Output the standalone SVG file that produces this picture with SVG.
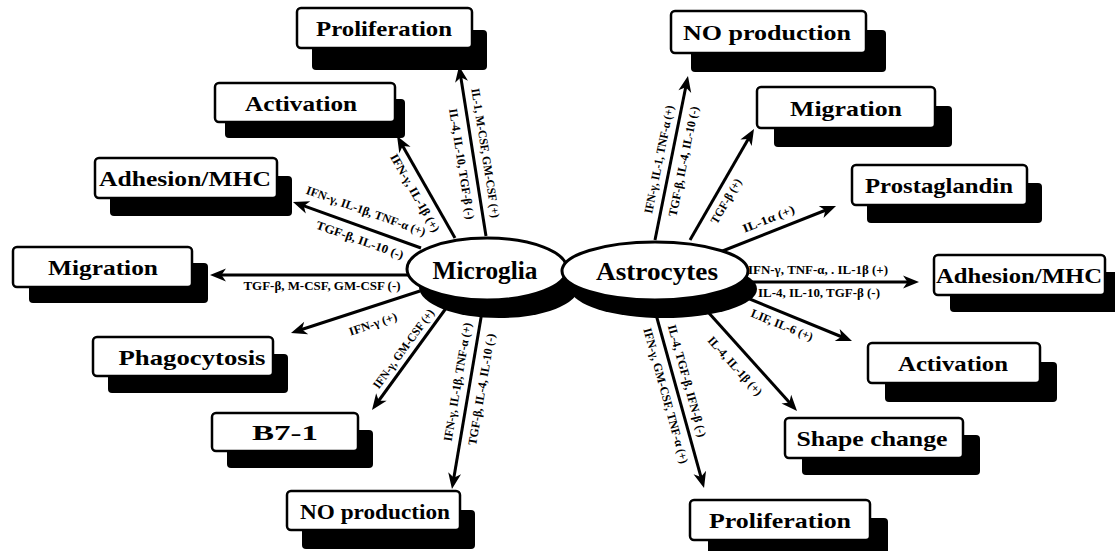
<svg xmlns="http://www.w3.org/2000/svg" width="1115" height="551" viewBox="0 0 1115 551">
<defs>
<style>
.sh{fill:#000}
.bx{fill:#fff;stroke:#000;stroke-width:2.5}
.bl{font-family:"Liberation Serif",serif;font-weight:bold;font-size:22px;text-anchor:middle;dominant-baseline:central;fill:#000}
.el{font-family:"Liberation Serif",serif;font-weight:bold;font-size:25px;text-anchor:middle;dominant-baseline:central;fill:#000}
.lb{font-family:"Liberation Serif",serif;font-weight:bold;font-size:12px;text-anchor:middle;dominant-baseline:central;fill:#000}
.cn{stroke:#000;stroke-width:3;fill:none;marker-end:url(#ah)}
.ov{fill:#fff;stroke:#000;stroke-width:3}
</style>
<marker id="ah" markerUnits="userSpaceOnUse" markerWidth="20" markerHeight="16" viewBox="-2 -8 20 16" refX="8" refY="0" orient="auto">
<path d="M16,0 L0,-6.5 L4.5,0 L0,6.5 Z" fill="#000"/>
</marker>
</defs>
<rect width="1115" height="551" fill="#fff"/>

<g id="mg-prolif"><rect class="sh" x="312" y="30" width="175" height="40" rx="4"/><rect class="bx" x="297" y="8" width="175" height="40" rx="4"/><text class="bl" x="384" y="28" textLength="136" lengthAdjust="spacingAndGlyphs">Proliferation</text></g>
<g id="mg-activation"><rect class="sh" x="225" y="99" width="180" height="39" rx="4"/><rect class="bx" x="215" y="83" width="180" height="39" rx="4"/><text class="bl" x="301" y="103" textLength="112" lengthAdjust="spacingAndGlyphs">Activation</text></g>
<g id="mg-adhesion"><rect class="sh" x="110" y="176" width="182" height="40" rx="4"/><rect class="bx" x="95" y="158" width="182" height="40" rx="4"/><text class="bl" x="185" y="178" textLength="172" lengthAdjust="spacingAndGlyphs">Adhesion/MHC</text></g>
<g id="mg-migration"><rect class="sh" x="29" y="263" width="179" height="40" rx="4"/><rect class="bx" x="13" y="247" width="179" height="40" rx="4"/><text class="bl" x="103" y="267" textLength="110" lengthAdjust="spacingAndGlyphs">Migration</text></g>
<g id="mg-phago"><rect class="sh" x="108" y="354" width="180" height="39" rx="4"/><rect class="bx" x="93" y="337" width="180" height="39" rx="4"/><text class="bl" x="192" y="357" textLength="147" lengthAdjust="spacingAndGlyphs">Phagocytosis</text></g>
<g id="mg-b71"><rect class="sh" x="227" y="430" width="146" height="38" rx="4"/><rect class="bx" x="212" y="413" width="146" height="38" rx="4"/><text class="bl" x="285" y="432" textLength="66" lengthAdjust="spacingAndGlyphs">B7-1</text></g>
<g id="mg-no"><rect class="sh" x="302" y="510" width="173" height="39" rx="4"/><rect class="bx" x="287" y="491" width="173" height="39" rx="4"/><text class="bl" x="375" y="511" textLength="150" lengthAdjust="spacingAndGlyphs">NO production</text></g>

<g id="as-no"><rect class="sh" x="691" y="30" width="195" height="42" rx="4"/><rect class="bx" x="671" y="11" width="195" height="42" rx="4"/><text class="bl" x="767" y="32" textLength="168" lengthAdjust="spacingAndGlyphs">NO production</text></g>
<g id="as-migration"><rect class="sh" x="774" y="106" width="178" height="41" rx="4"/><rect class="bx" x="757" y="87" width="178" height="41" rx="4"/><text class="bl" x="846" y="108" textLength="112" lengthAdjust="spacingAndGlyphs">Migration</text></g>
<g id="as-prosta"><rect class="sh" x="867" y="183" width="175" height="40" rx="4"/><rect class="bx" x="852" y="165" width="175" height="40" rx="4"/><text class="bl" x="939" y="185" textLength="148" lengthAdjust="spacingAndGlyphs">Prostaglandin</text></g>
<g id="as-adhesion"><rect class="sh" x="950" y="272" width="171" height="40" rx="4"/><rect class="bx" x="934" y="255" width="171" height="40" rx="4"/><text class="bl" x="1019" y="275" textLength="166" lengthAdjust="spacingAndGlyphs">Adhesion/MHC</text></g>
<g id="as-activation"><rect class="sh" x="885" y="362" width="172" height="40" rx="4"/><rect class="bx" x="868" y="343" width="172" height="40" rx="4"/><text class="bl" x="953" y="363" textLength="110" lengthAdjust="spacingAndGlyphs">Activation</text></g>
<g id="as-shape"><rect class="sh" x="802" y="435" width="178" height="40" rx="4"/><rect class="bx" x="785" y="418" width="178" height="40" rx="4"/><text class="bl" x="872" y="438" textLength="151" lengthAdjust="spacingAndGlyphs">Shape change</text></g>
<g id="as-prolif"><rect class="sh" x="708" y="518" width="180" height="40" rx="4"/><rect class="bx" x="690" y="500" width="180" height="40" rx="4"/><text class="bl" x="780" y="520" textLength="142" lengthAdjust="spacingAndGlyphs">Proliferation</text></g>

<g id="connectors">
<line class="cn" x1="486" y1="236" x2="460.3" y2="73.9"/>
<line class="cn" x1="455" y1="238" x2="401" y2="143"/>
<line class="cn" x1="421" y1="248" x2="300.5" y2="204.7"/>
<line class="cn" x1="408" y1="275" x2="218" y2="275"/>
<line class="cn" x1="420" y1="291" x2="298.6" y2="330.5"/>
<line class="cn" x1="452" y1="300" x2="376.7" y2="403.5"/>
<line class="cn" x1="484" y1="300" x2="453.3" y2="481.1"/>
<line class="cn" x1="655" y1="240" x2="686.4" y2="83.8"/>
<line class="cn" x1="690" y1="240" x2="750" y2="135.9"/>
<line class="cn" x1="720" y1="252" x2="828.6" y2="209"/>
<line class="cn" x1="745" y1="282" x2="911" y2="282"/>
<line class="cn" x1="740" y1="295" x2="844.6" y2="338"/>
<line class="cn" x1="708" y1="312" x2="791.7" y2="405.1"/>
<line class="cn" x1="652" y1="300" x2="701.9" y2="480.3"/>

<text class="lb" transform="translate(485.5,153) rotate(81)" textLength="131" lengthAdjust="spacingAndGlyphs">IL-1, M-CSF, GM-CSF (+)</text>
<text class="lb" transform="translate(461.8,164) rotate(81)" textLength="112" lengthAdjust="spacingAndGlyphs">IL-4, IL-10, TGF-β (-)</text>
<text class="lb" transform="translate(415,193) rotate(60.4)" textLength="88" lengthAdjust="spacingAndGlyphs">IFN-γ, IL-1β (+)</text>
<text class="lb" transform="translate(366,211) rotate(19.8)" textLength="126" lengthAdjust="spacingAndGlyphs">IFN-γ, IL-1β, TNF-α (+)</text>
<text class="lb" transform="translate(360,240) rotate(19.8)" textLength="92" lengthAdjust="spacingAndGlyphs">TGF-β, IL-10 (-)</text>
<text class="lb" x="322" y="286" textLength="157" lengthAdjust="spacingAndGlyphs">TGF-β, M-CSF, GM-CSF (-)</text>
<text class="lb" transform="translate(373,324) rotate(-18.5)" textLength="50" lengthAdjust="spacingAndGlyphs">IFN-γ (+)</text>
<text class="lb" transform="translate(403.5,348.8) rotate(-54)" textLength="95" lengthAdjust="spacingAndGlyphs">IFN-γ, GM-CSF (+)</text>
<text class="lb" transform="translate(457.5,382) rotate(-80.4)" textLength="120" lengthAdjust="spacingAndGlyphs">IFN-γ, IL-1β, TNF-α (+)</text>
<text class="lb" transform="translate(481.5,389.4) rotate(-80.4)" textLength="113" lengthAdjust="spacingAndGlyphs">TGF-β, IL-4, IL-10 (-)</text>

<text class="lb" transform="translate(659,159.4) rotate(-78.6)" textLength="110" lengthAdjust="spacingAndGlyphs">IFN-γ, IL-1, TNF-α (+)</text>
<text class="lb" transform="translate(683.5,161.4) rotate(-78.6)" textLength="112" lengthAdjust="spacingAndGlyphs">TGF-β, IL-4, IL-10 (-)</text>
<text class="lb" transform="translate(726,201) rotate(-60)" textLength="50" lengthAdjust="spacingAndGlyphs">TGF-β (+)</text>
<text class="lb" transform="translate(768.5,219) rotate(-21.6)" textLength="55" lengthAdjust="spacingAndGlyphs">IL-1α (+)</text>
<text class="lb" x="818" y="270" textLength="140" lengthAdjust="spacingAndGlyphs">IFN-γ, TNF-α, . IL-1β (+)</text>
<text class="lb" x="819" y="293" textLength="122" lengthAdjust="spacingAndGlyphs">IL-4, IL-10, TGF-β (-)</text>
<text class="lb" transform="translate(782,325) rotate(22)" textLength="66" lengthAdjust="spacingAndGlyphs">LIF, IL-6 (+)</text>
<text class="lb" transform="translate(735,366) rotate(48)" textLength="75" lengthAdjust="spacingAndGlyphs">IL-4, IL-1β (+)</text>
<text class="lb" transform="translate(687,380.8) rotate(74.5)" textLength="116" lengthAdjust="spacingAndGlyphs">IL-4, TGF-β, IFN-β (-)</text>
<text class="lb" transform="translate(665.8,395.7) rotate(74.5)" textLength="140" lengthAdjust="spacingAndGlyphs">IFN-γ, GM-CSF, TNF-α (+)</text>
</g>

<g id="microglia"><ellipse class="sh" cx="499" cy="287" rx="80" ry="31"/><ellipse class="ov" cx="487" cy="269" rx="80" ry="31"/><text class="el" x="485" y="270" textLength="105" lengthAdjust="spacingAndGlyphs">Microglia</text></g>
<g id="astrocytes"><ellipse class="sh" cx="664" cy="289" rx="93" ry="29"/><ellipse class="ov" cx="655" cy="271" rx="93" ry="29"/><text class="el" x="657" y="271" textLength="122" lengthAdjust="spacingAndGlyphs">Astrocytes</text></g>
</svg>
